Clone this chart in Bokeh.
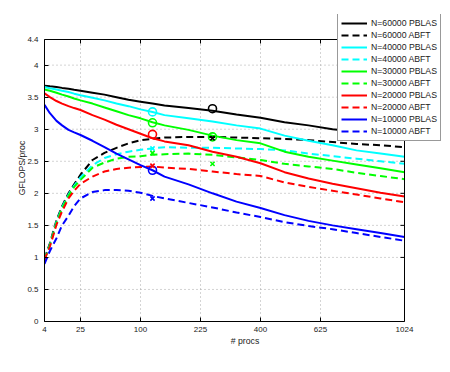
import numpy as np
from bokeh.plotting import figure
from bokeh.models import Range1d, FixedTicker, Legend, LegendItem, PrintfTickFormatter
from bokeh.embed import file_html
from bokeh.resources import INLINE

# ---------------- data ----------------
procs = [4, 6, 9, 12, 16, 20, 25, 36, 49, 64, 81, 100, 121, 144, 196, 256,
         324, 400, 484, 576, 676, 784, 900, 1024]

pblas_60000 = [3.68, 3.67, 3.66, 3.645, 3.63, 3.615, 3.60, 3.57, 3.54, 3.50, 3.46, 3.43,
               3.40, 3.37, 3.33, 3.29, 3.23, 3.18, 3.11, 3.06, 3.00, 2.96, 2.93, 2.90]
abft_60000 = [0.98, 1.22, 1.58, 1.80, 2.00, 2.14, 2.29, 2.52, 2.63, 2.71, 2.78, 2.83,
              2.85, 2.87, 2.88, 2.88, 2.87, 2.86, 2.85, 2.83, 2.80, 2.77, 2.75, 2.72]
pblas_40000 = [3.66, 3.64, 3.62, 3.60, 3.58, 3.555, 3.53, 3.49, 3.45, 3.40, 3.36, 3.31,
               3.27, 3.22, 3.17, 3.12, 3.06, 3.01, 2.90, 2.82, 2.75, 2.67, 2.62, 2.57]
abft_40000 = [0.97, 1.20, 1.56, 1.78, 1.98, 2.12, 2.25, 2.44, 2.55, 2.61, 2.65, 2.68,
              2.70, 2.72, 2.71, 2.71, 2.70, 2.69, 2.67, 2.62, 2.58, 2.54, 2.50, 2.46]
pblas_30000 = [3.62, 3.60, 3.57, 3.54, 3.51, 3.48, 3.45, 3.40, 3.34, 3.28, 3.22, 3.17,
               3.11, 3.06, 2.99, 2.90, 2.83, 2.78, 2.65, 2.57, 2.51, 2.45, 2.39, 2.33]
abft_30000 = [0.97, 1.19, 1.54, 1.76, 1.96, 2.10, 2.21, 2.40, 2.48, 2.54, 2.57, 2.58,
              2.60, 2.61, 2.62, 2.60, 2.56, 2.52, 2.46, 2.42, 2.38, 2.32, 2.27, 2.22]
pblas_20000 = [3.56, 3.50, 3.44, 3.40, 3.36, 3.33, 3.30, 3.22, 3.15, 3.07, 3.00, 2.93,
               2.86, 2.81, 2.75, 2.65, 2.57, 2.47, 2.33, 2.23, 2.15, 2.08, 2.01, 1.95]
abft_20000 = [0.96, 1.17, 1.51, 1.72, 1.92, 2.04, 2.15, 2.26, 2.34, 2.38, 2.40, 2.41,
              2.42, 2.40, 2.38, 2.34, 2.30, 2.27, 2.17, 2.10, 2.04, 1.98, 1.92, 1.86]
pblas_10000 = [3.38, 3.25, 3.13, 3.06, 2.99, 2.95, 2.91, 2.82, 2.72, 2.62, 2.53, 2.44,
               2.36, 2.26, 2.14, 2.00, 1.87, 1.77, 1.66, 1.57, 1.50, 1.44, 1.38, 1.32]
abft_10000 = [0.90, 1.10, 1.30, 1.50, 1.65, 1.80, 1.92, 2.02, 2.05, 2.05, 2.04, 2.01,
              1.96, 1.92, 1.85, 1.78, 1.70, 1.63, 1.55, 1.49, 1.44, 1.38, 1.32, 1.26]

# measured points: circles and crosses
circle_procs = [121, 121, 121, 121, 256, 256]
circle_vals = [3.27, 3.10, 2.92, 2.36, 3.32, 2.88]
circle_colors = ["#00ffff", "#00ff00", "#ff0000", "#0000ff", "#000000", "#00ff00"]
cross_procs = [121, 121, 121, 121, 256, 256]
cross_vals = [2.70, 2.63, 2.43, 1.92, 2.86, 2.46]
cross_colors = ["#00ffff", "#00ff00", "#ff0000", "#0000ff", "#000000", "#00ff00"]

series_labels = ["N=60000 PBLAS", "N=60000 ABFT", "N=40000 PBLAS", "N=40000 ABFT",
                 "N=30000 PBLAS", "N=30000 ABFT", "N=20000 PBLAS", "N=20000 ABFT",
                 "N=10000 PBLAS", "N=10000 ABFT"]
series_values = [pblas_60000, abft_60000, pblas_40000, abft_40000, pblas_30000,
                 abft_30000, pblas_20000, abft_20000, pblas_10000, abft_10000]
series_colors = ["#000000", "#000000", "#00ffff", "#00ffff", "#00ff00", "#00ff00",
                 "#ff0000", "#ff0000", "#0000ff", "#0000ff"]
series_dashed = [False, True] * 5

x_tick_labels = [4, 25, 100, 225, 400, 625, 1024]
y_ticks = [0, 0.5, 1, 1.5, 2, 2.5, 3, 3.5, 4, 4.4]

# ---------------- layout ----------------
FONT = "Liberation Sans"
TXT = "#1a1a1a"
W, H = 448, 370
BL, BR, BT, BB = 44, 3, 14, 49          # borders around the (enlarged) frame
BOX_W, BOX_H = 360, 282                 # size of the visible axes box in px

x_ticks = [int(round(np.sqrt(v))) for v in x_tick_labels]
x0, x1 = x_ticks[0], x_ticks[-1]
y0, y1 = y_ticks[0], y_ticks[-1]
fw, fh = W - BL - BR, H - BT - BB
x_end = x0 + (x1 - x0) * fw / BOX_W
y_end = y0 + (y1 - y0) * fh / BOX_H

p = figure(width=W, height=H, x_range=Range1d(x0, x_end), y_range=Range1d(y0, y_end),
           output_backend="svg", toolbar_location=None,
           min_border_left=BL, min_border_right=BR, min_border_top=BT, min_border_bottom=BB)
p.outline_line_color = None
p.background_fill_color = "white"
p.border_fill_color = "white"
p.xgrid.visible = False
p.ygrid.visible = False

sx = lambda v: np.sqrt(np.asarray(v, dtype=float))

def style_axis(ax):
    ax.major_tick_in = 4
    ax.major_tick_out = 0
    ax.minor_tick_in = 0
    ax.minor_tick_out = 0
    ax.axis_line_color = "black"
    ax.axis_line_width = 1
    ax.major_tick_line_color = "black"
    ax.major_label_text_font = FONT
    ax.major_label_text_font_size = "8px"
    ax.major_label_text_color = TXT
    ax.axis_label_text_font = FONT
    ax.axis_label_text_font_size = "8.7px"
    ax.axis_label_text_font_style = "normal"
    ax.axis_label_text_color = TXT

xa = p.xaxis[0]
xa.ticker = FixedTicker(ticks=x_ticks)
xa.major_label_overrides = {t: str(l) for t, l in zip(x_ticks, x_tick_labels)}
xa.axis_label = "# procs"
xa.major_label_standoff = 5
xa.axis_label_standoff = 1
xa.bounds = (x0, x1)
style_axis(xa)

ya = p.yaxis[0]
ya.ticker = FixedTicker(ticks=y_ticks)
ya.formatter = PrintfTickFormatter(format="%g")
ya.axis_label = "GFLOPS/proc"
ya.major_label_standoff = 6
ya.axis_label_standoff = -3
ya.bounds = (y0, y1)
style_axis(ya)

# dotted grid inside the box only
gx = x_ticks[1:-1]
p.segment(x0=gx, y0=[y0] * len(gx), x1=gx, y1=[y1] * len(gx),
          line_color="#a8a8a8", line_dash="1 3", line_width=1)
gy = y_ticks[1:-1]
p.segment(x0=[x0] * len(gy), y0=gy, x1=[x1] * len(gy), y1=gy,
          line_color="#a8a8a8", line_dash="1 3", line_width=1)

items = []
xs = sx(procs)
for lab, vals, col, dashed in zip(series_labels, series_values, series_colors, series_dashed):
    r = p.line(xs, vals, line_color=col, line_width=2,
               line_dash="7 4" if dashed else "solid")
    items.append(LegendItem(label=lab, renderers=[r]))

p.scatter(sx(circle_procs), circle_vals, marker="circle", size=8, fill_color=None,
          line_color=circle_colors, line_width=1.6)
p.scatter(sx(cross_procs), cross_vals, marker="x", size=6,
          line_color=cross_colors, line_width=1.6)

# top and right sides of the box, with inward ticks
p.segment(x0=[x0, x1], y0=[y1, y0], x1=[x1, x1], y1=[y1, y1], line_color="black", line_width=1)
p.ray(x=x_ticks, y=[y1] * len(x_ticks), length=4, length_units="screen",
      angle=-np.pi / 2, line_color="black", line_width=1)
p.ray(x=[x1] * len(y_ticks), y=y_ticks, length=4, length_units="screen",
      angle=np.pi, line_color="black", line_width=1)

legend = Legend(items=items, location=(293, 180))
legend.label_text_font = FONT
legend.label_text_font_size = "8.7px"
legend.label_text_color = TXT
legend.glyph_width = 26
legend.glyph_height = 12
legend.label_height = 12
legend.label_standoff = 4
legend.spacing = 0
legend.padding = 3
legend.margin = 0
legend.border_line_color = "#333333"
legend.border_line_width = 1
legend.background_fill_color = "white"
legend.background_fill_alpha = 1
p.add_layout(legend)

open("out.html", "w").write(file_html(p, INLINE))
